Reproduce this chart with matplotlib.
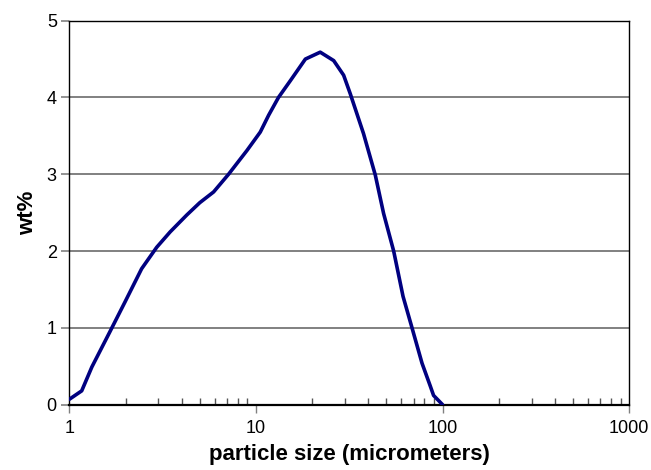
import numpy as np
import matplotlib
matplotlib.use("Agg")
import matplotlib.pyplot as plt
from matplotlib.ticker import FixedLocator, LogLocator, NullFormatter

# particle size distribution
size_um = [1.0, 1.165, 1.32, 1.65, 1.99, 2.44, 2.94, 3.47, 4.26, 5.0,
           5.93, 7.13, 8.95, 10.55, 11.7, 13.2, 15.3, 18.4, 22.1, 26.1,
           29.5, 32.0, 37.7, 43.6, 48.3, 54.7, 61.4, 68.6, 77.6,
           86.0, 89.5, 100.0]
wt_pct = [0.07, 0.18, 0.49, 0.95, 1.34, 1.77, 2.05, 2.25, 2.47, 2.63,
          2.77, 3.00, 3.31, 3.55, 3.77, 4.00, 4.22, 4.50, 4.59, 4.48,
          4.29, 4.05, 3.53, 2.99, 2.49, 2.00, 1.41, 1.00, 0.54,
          0.24, 0.12, 0.0]

x_ticks = [1, 10, 100, 1000]
x_ticklabels = ["1", "10", "100", "1000"]
y_ticks = [0, 1, 2, 3, 4, 5]

plt.rcParams['font.family'] = ['Liberation Sans', 'DejaVu Sans']

fig = plt.figure(figsize=(6.51, 4.70), dpi=100)
ax = fig.add_axes([0.1065, 0.139, 0.860, 0.817])

ax.plot(size_um, wt_pct, color="#000080", lw=2.6, solid_capstyle="round",
        solid_joinstyle="round", zorder=3)

ax.set_xscale("log")
ax.set_xlim(1, 1000)
ax.set_ylim(0, 5)
ax.xaxis.set_major_locator(FixedLocator(x_ticks))
ax.set_xticklabels(x_ticklabels)
ax.xaxis.set_minor_locator(LogLocator(base=10, subs=np.arange(2, 10)))
ax.xaxis.set_minor_formatter(NullFormatter())
ax.set_yticks(y_ticks)

for v in y_ticks[1:-1]:
    ax.axhline(v, color="#808080", lw=1.4, zorder=1)

ax.tick_params(axis="x", which="major", direction="out", length=6,
               width=1, color="#808080", labelsize=13, pad=5)
ax.tick_params(axis="x", which="minor", direction="in", length=5,
               width=1, color="#555555")
ax.tick_params(axis="y", direction="out", length=6, width=1.2,
               color="#808080", labelsize=13, pad=3)

for side in ["left", "top", "right"]:
    ax.spines[side].set_linewidth(1.0)
    ax.spines[side].set_color("black")
ax.spines["bottom"].set_linewidth(1.6)

ax.set_xlabel("particle size (micrometers)", fontsize=16, fontweight="bold",
              labelpad=5)
ax.set_ylabel("wt%", fontsize=16, fontweight="bold", labelpad=6)

fig.savefig("out.png", dpi=100)
